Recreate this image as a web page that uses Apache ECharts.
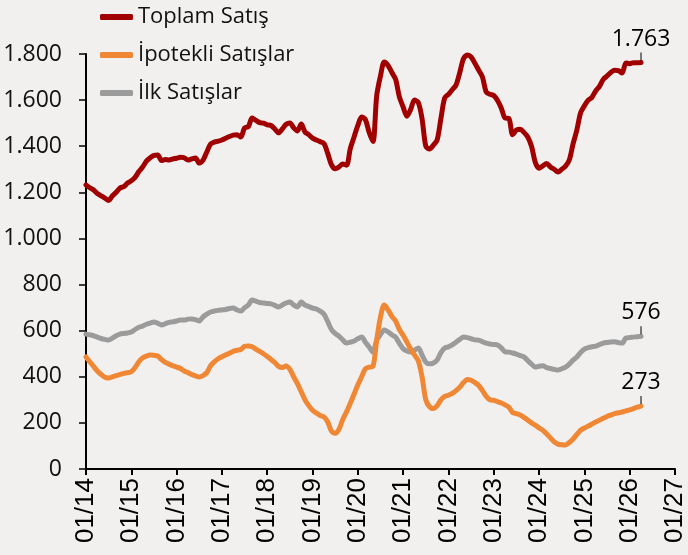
<!DOCTYPE html>
<html>
<head>
<meta charset="utf-8">
<script src="https://cdn.jsdelivr.net/npm/echarts@6/dist/echarts.min.js"></script>
<style>
  html, body { margin: 0; padding: 0; background: #f2f0ef; }
  #main { width: 688px; height: 555px; }
</style>
</head>
<body>
<div id="main"></div>
<script>
// aylar: 0 = 01/14, aylık
const seriesNames = ['Toplam Satış', 'İpotekli Satışlar', 'İlk Satışlar']
const yearTicks = ['01/14', '01/15', '01/16', '01/17', '01/18', '01/19', '01/20', '01/21', '01/22', '01/23', '01/24', '01/25', '01/26', '01/27']

const toplam = [
  1232, 1220, 1210, 1195, 1185, 1175, 1165, 1185, 1200, 1219, 1225, 1240,
  1250, 1265, 1290, 1310, 1335, 1350, 1360, 1362, 1338, 1342, 1340, 1345,
  1348, 1352, 1350, 1340, 1345, 1349, 1327, 1340, 1375, 1410, 1418, 1422,
  1427, 1435, 1442, 1448, 1450, 1440, 1479, 1485, 1522, 1512, 1502, 1500,
  1493, 1490, 1475, 1458, 1475, 1495, 1501, 1480, 1466, 1496, 1462, 1450,
  1435, 1427, 1420, 1412, 1370, 1320, 1302, 1310, 1323, 1318, 1390, 1440,
  1490, 1527, 1515, 1460, 1420, 1620, 1705, 1765, 1750, 1720, 1690, 1614,
  1570, 1530, 1560, 1600, 1590, 1520, 1400, 1388, 1405, 1427, 1520, 1609,
  1625, 1645, 1665, 1720, 1780, 1796, 1787, 1760, 1730, 1700, 1635, 1625,
  1620, 1598, 1565, 1522, 1520, 1450, 1470, 1474, 1460, 1440, 1400, 1330,
  1305, 1315, 1325, 1310, 1300, 1288, 1300, 1314, 1340, 1410, 1470, 1545,
  1575, 1600, 1612, 1640, 1660, 1690, 1705, 1720, 1730, 1728, 1718, 1761,
  1758, 1762, 1762, 1763
]

const ipotekli = [
  486, 465, 445, 425, 410, 398, 395, 400, 405, 410, 415, 418,
  422, 440, 465, 482, 490, 494, 493, 490, 475, 462, 455, 448,
  442, 436, 425, 418, 410, 404, 399, 405, 418, 448, 465, 478,
  487, 495, 502, 510, 515, 518, 532, 534, 530, 520, 510, 500,
  488, 475, 462, 445, 440, 447, 432, 400, 370, 335, 300, 275,
  255, 243, 232, 226, 205, 165, 155, 172, 215, 248, 285, 325,
  365, 400, 435, 442, 445, 560, 660, 711, 690, 662, 642, 605,
  580, 550, 520, 495, 470, 400, 300, 270, 262, 275, 300, 315,
  320, 328, 340, 355, 375, 388, 385, 375, 362, 340, 315, 300,
  298, 292, 286, 278, 268, 245, 240, 234, 224, 212, 200, 190,
  178, 168, 152, 135, 118, 108, 105, 104, 115, 130, 150, 168,
  178, 186, 195, 204, 212, 220, 228, 234, 240, 244, 247, 252,
  256, 262, 268, 273
]

const ilk = [
  585, 582, 578, 572, 566, 562, 559, 568, 578, 585, 588, 590,
  594, 605, 615, 620, 628, 633, 638, 632, 625, 630, 636, 638,
  642, 646, 646, 650, 651, 648, 642, 660, 672, 681, 685, 688,
  690, 692, 696, 698, 690, 685, 700, 711, 733, 728, 722, 720,
  718, 716, 710, 703, 712, 720, 724, 712, 703, 724, 711, 705,
  698, 694, 685, 672, 640, 605, 588, 576, 560, 546, 550, 555,
  565, 572, 550, 529, 507, 560, 583, 603, 595, 582, 572, 545,
  522, 512, 507, 515, 525, 495, 464, 456, 460, 473, 505, 525,
  530, 538, 550, 562, 572, 570, 565, 560, 559, 552, 546, 542,
  540, 538, 525, 508, 507, 503, 498, 492, 486, 470, 455, 442,
  446, 448, 440, 436, 432, 429, 435, 442, 455, 472, 486, 505,
  520, 526, 530, 533, 540, 546, 549, 551, 552, 548, 546, 568,
  570, 572, 574, 576
]

const colors = ['#a00000', '#f08735', '#9b9b9b']
const seriesData = [toplam, ipotekli, ilk]

function fmt(v) {
  return String(v).replace(/\B(?=(\d{3})+(?!\d))/g, '.')
}

const chart = echarts.init(document.getElementById('main'))

const series = seriesData.map((arr, i) => {
  const last = arr.length - 1
  return {
    name: seriesNames[i],
    type: 'line',
    showSymbol: false,
    symbol: 'none',
    smooth: 0.3,
    z: 3 - i,
    lineStyle: { width: 5, color: colors[i], cap: 'round', join: 'round' },
    itemStyle: { color: colors[i] },
    data: arr.map((v, idx) => [idx, v]),
    // son değer etiketi
    markPoint: {
      symbol: 'rect',
      symbolSize: [1, 8],
      symbolOffset: [0, -6],
      silent: true,
      itemStyle: { color: '#000' },
      label: {
        show: true,
        position: 'top',
        distance: 2,
        color: '#000',
        fontFamily: 'Open Sans',
        fontSize: 23,
        formatter: p => fmt(p.value)
      },
      data: [{ coord: [last, arr[last]], value: arr[last] }]
    }
  }
})

chart.setOption({
  backgroundColor: '#f2f0ef',
  animation: false,
  color: colors,
  textStyle: { fontFamily: 'Open Sans' },
  legend: {
    orient: 'vertical',
    left: 95,
    top: 1,
    itemWidth: 33,
    itemHeight: 6,
    itemGap: 16,
    icon: 'roundRect',
    textStyle: { fontSize: 22, lineHeight: 22, color: '#111', fontFamily: 'Open Sans' },
    data: seriesNames
  },
  grid: {
    left: 86,
    right: 10,
    top: 54,
    bottom: 86,
    containLabel: false
  },
  xAxis: {
    type: 'value',
    min: 0,
    max: 156,
    interval: 12,
    axisLine: { show: true, onZero: false, lineStyle: { color: '#000', width: 2 } },
    axisTick: { show: true, length: 6, lineStyle: { color: '#000', width: 2 } },
    splitLine: { show: false },
    axisLabel: {
      rotate: 90,
      margin: 9,
      color: '#000',
      fontFamily: 'Liberation Sans',
      fontSize: 26,
      formatter: v => yearTicks[v / 12] || ''
    }
  },
  yAxis: {
    type: 'value',
    min: 0,
    max: 1800,
    interval: 200,
    axisLine: { show: true, lineStyle: { color: '#000', width: 2 } },
    axisTick: { show: true, length: 7, lineStyle: { color: '#000', width: 1.5 } },
    splitLine: { show: false },
    axisLabel: {
      margin: 24,
      color: '#111',
      fontFamily: 'Open Sans',
      fontSize: 23,
      formatter: v => fmt(v)
    }
  },
  series: series
})
</script>
</body>
</html>
